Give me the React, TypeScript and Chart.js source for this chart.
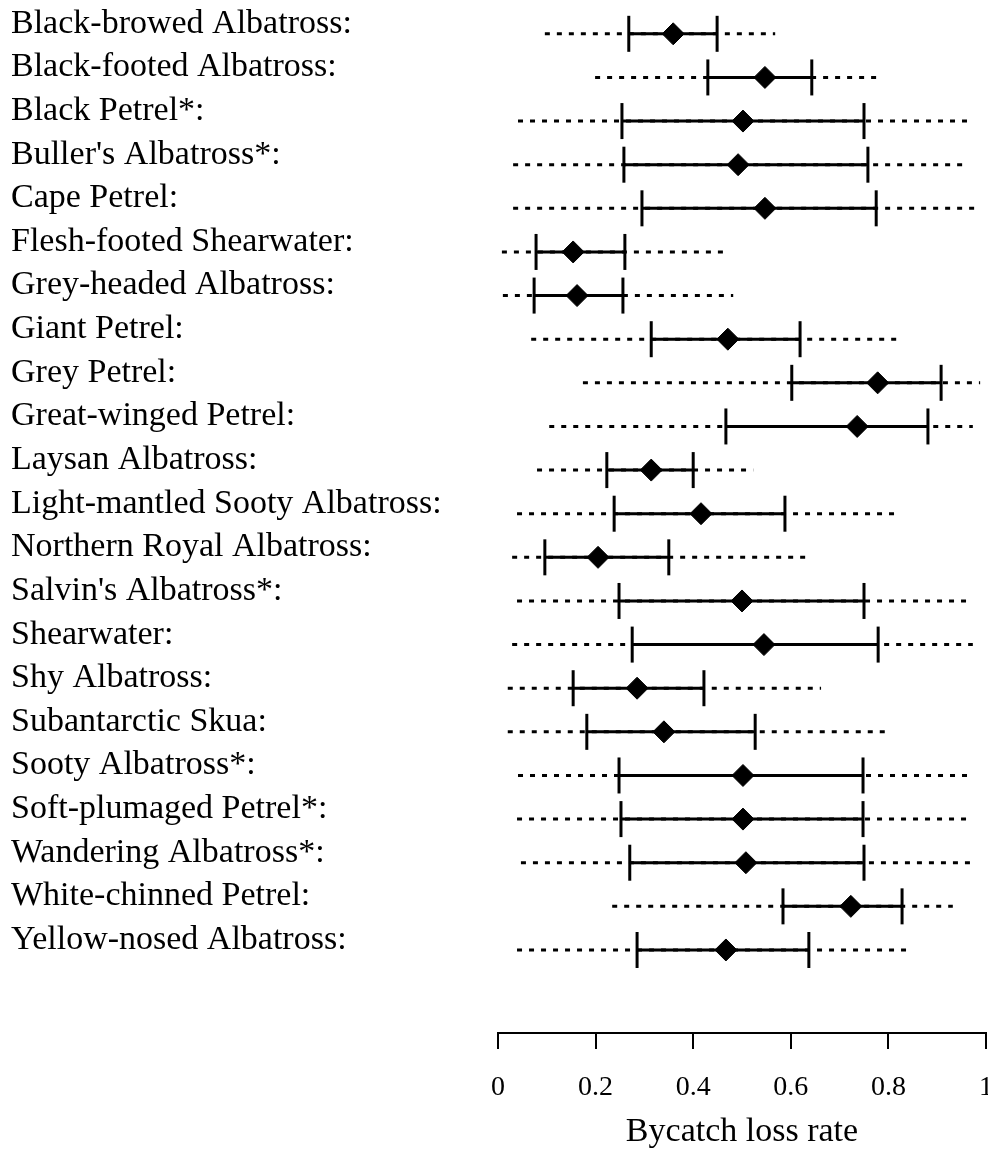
import React, { useEffect, useRef } from 'react';
import { Chart, registerables } from 'chart.js';

Chart.register(...registerables);

const categories = [
  'Black-browed Albatross:',
  'Black-footed Albatross:',
  'Black Petrel*:',
  "Buller's Albatross*:",
  'Cape Petrel:',
  'Flesh-footed Shearwater:',
  'Grey-headed Albatross:',
  'Giant Petrel:',
  'Grey Petrel:',
  'Great-winged Petrel:',
  'Laysan Albatross:',
  'Light-mantled Sooty Albatross:',
  'Northern Royal Albatross:',
  "Salvin's Albatross*:",
  'Shearwater:',
  'Shy Albatross:',
  'Subantarctic Skua:',
  'Sooty Albatross*:',
  'Soft-plumaged Petrel*:',
  'Wandering Albatross*:',
  'White-chinned Petrel:',
  'Yellow-nosed Albatross:',
];

const outerLow = [0.096, 0.199, 0.041, 0.031, 0.031, 0.008, 0.01, 0.068, 0.174, 0.105, 0.08, 0.039, 0.029, 0.039, 0.029, 0.02, 0.02, 0.041, 0.039, 0.047, 0.234, 0.039];
const innerLow = [0.268, 0.43, 0.254, 0.258, 0.295, 0.078, 0.074, 0.314, 0.602, 0.467, 0.223, 0.238, 0.096, 0.248, 0.275, 0.154, 0.182, 0.248, 0.252, 0.27, 0.584, 0.285];
const median = [0.359, 0.547, 0.502, 0.492, 0.547, 0.154, 0.162, 0.471, 0.778, 0.736, 0.314, 0.416, 0.205, 0.5, 0.545, 0.285, 0.34, 0.502, 0.502, 0.508, 0.723, 0.467];
const innerHigh = [0.449, 0.643, 0.75, 0.758, 0.775, 0.26, 0.256, 0.619, 0.908, 0.881, 0.4, 0.588, 0.35, 0.75, 0.779, 0.422, 0.527, 0.748, 0.748, 0.75, 0.828, 0.637];
const outerHigh = [0.568, 0.783, 0.967, 0.957, 0.982, 0.471, 0.482, 0.822, 0.988, 0.973, 0.523, 0.82, 0.637, 0.963, 0.973, 0.662, 0.803, 0.967, 0.965, 0.971, 0.932, 0.842];

const xTicks = [0, 0.2, 0.4, 0.6, 0.8, 1];
const xTitle = 'Bycatch loss rate';

const FONT = '"Liberation Serif", "Times New Roman", serif';

function segments(lo: number[], hi: number[]) {
  const out: { x: number; y: number }[] = [];
  lo.forEach((v, i) => {
    out.push({ x: v, y: i }, { x: hi[i], y: i }, { x: NaN, y: NaN });
  });
  return out;
}

export default function App() {
  const ref = useRef<HTMLCanvasElement>(null);

  useEffect(() => {
    document.body.style.margin = '0';
    const canvas = ref.current!;
    const chart = new Chart(canvas, {
      type: 'scatter',
      data: {
        datasets: [
          {
            data: median.map((v, i) => ({ x: v, y: i })),
            showLine: false,
            pointStyle: 'rectRot',
            pointRadius: 11,
            pointHoverRadius: 11,
            pointBackgroundColor: '#000',
            pointBorderColor: '#000',
            pointBorderWidth: 1,
            clip: false,
          },
          {
            data: [
              ...innerLow.map((v, i) => ({ x: v, y: i })),
              ...innerHigh.map((v, i) => ({ x: v, y: i })),
            ],
            showLine: false,
            pointStyle: 'line',
            pointRotation: 90,
            pointRadius: 18,
            pointHoverRadius: 18,
            pointBorderColor: '#000',
            pointBorderWidth: 3,
            clip: false,
          },
          {
            data: segments(innerLow, innerHigh),
            showLine: true,
            spanGaps: false,
            borderColor: '#000',
            borderWidth: 3,
            pointRadius: 0,
            pointHoverRadius: 0,
            clip: false,
          },
          {
            data: segments(outerLow, outerHigh),
            showLine: true,
            spanGaps: false,
            borderColor: '#000',
            borderWidth: 3,
            borderDash: [5, 7],
            pointRadius: 0,
            pointHoverRadius: 0,
            clip: false,
          },
        ],
      },
      options: {
        animation: false,
        responsive: false,
        events: [],
        layout: { autoPadding: false, padding: { left: 11, right: 2, top: 12, bottom: 0 } },
        plugins: {
          legend: { display: false },
          tooltip: { enabled: false },
        },
        scales: {
          x: {
            type: 'linear',
            position: 'bottom',
            min: 0,
            max: 1,
            afterBuildTicks: (s: any) => {
              s.ticks = xTicks.map((v) => ({ value: v }));
            },
            afterFit: (s: any) => {
              s.height = 120;
              s.paddingLeft = 0;
              s.paddingRight = 0;
            },
            ticks: {
              callback: (v: any) => String(v),
              font: { family: FONT, size: 28 },
              color: '#000',
              padding: 22,
              maxRotation: 0,
              autoSkip: false,
            },
            grid: {
              drawOnChartArea: false,
              drawTicks: true,
              tickLength: 16,
              color: '#000',
              lineWidth: 2,
            },
            border: { display: true, color: '#000', width: 2 },
            title: {
              display: true,
              text: xTitle,
              font: { family: FONT, size: 34 },
              color: '#000',
              padding: { top: 0, bottom: 1 },
            },
          },
          y: {
            type: 'linear',
            reverse: true,
            min: -0.5,
            max: 22.903,
            afterBuildTicks: (s: any) => {
              s.ticks = categories.map((_, i) => ({ value: i }));
            },
            afterFit: (s: any) => {
              s.width = 487;
              s.paddingTop = 0;
              s.paddingBottom = 0;
            },
            ticks: {
              callback: (v: any) => categories[v] ?? '',
              font: { family: FONT, size: 34 },
              color: '#000',
              crossAlign: 'far',
              labelOffset: -10,
              autoSkip: false,
            },
            grid: { display: false },
            border: { display: false },
          },
        },
      },
    } as any);
    return () => chart.destroy();
  }, []);

  return <canvas ref={ref} width={988} height={1153} style={{ display: 'block' }} />;
}
